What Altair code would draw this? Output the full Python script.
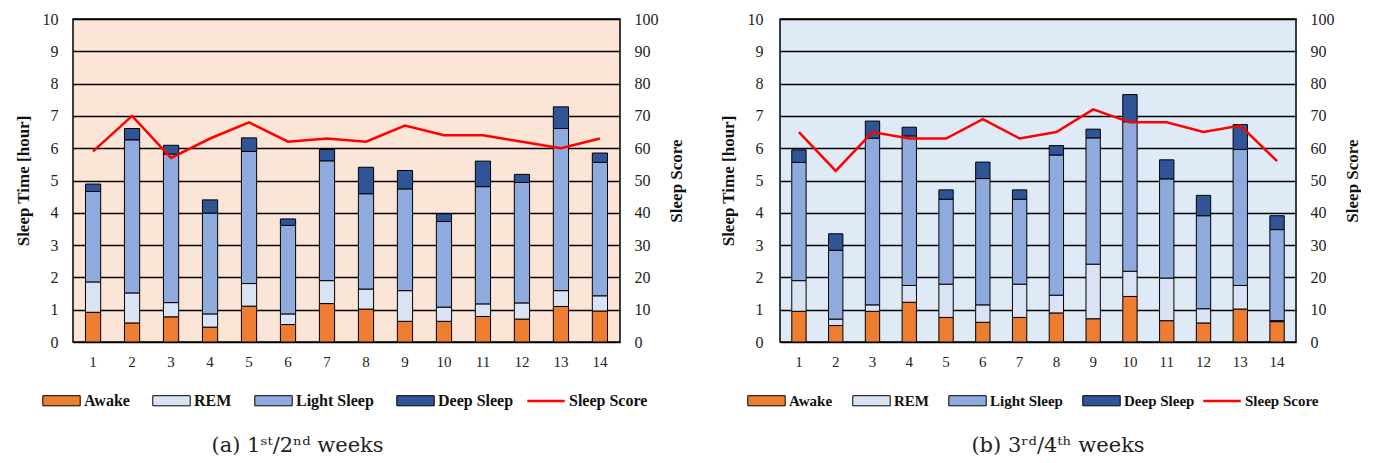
import altair as alt
import pandas as pd

days = list(range(1, 15))
stages = ["Awake", "REM", "Light Sleep", "Deep Sleep"]
stage_colors = ["#ED7D31", "#DAE3F3", "#8FAADC", "#2F5597"]
score_name = "Sleep Score"
line_color = "#FF0000"

# 1st/2nd weeks (hours per stage)
w12_awake = [0.92, 0.59, 0.78, 0.46, 1.11, 0.54, 1.19, 1.02, 0.64, 0.64, 0.79, 0.71, 1.10, 0.96]
w12_rem = [0.94, 0.93, 0.44, 0.41, 0.70, 0.33, 0.71, 0.62, 0.95, 0.44, 0.39, 0.50, 0.49, 0.47]
w12_light = [2.80, 4.74, 4.60, 3.12, 4.09, 2.74, 3.71, 2.95, 3.15, 2.65, 3.63, 3.73, 5.02, 4.13]
w12_deep = [0.23, 0.35, 0.27, 0.41, 0.42, 0.20, 0.35, 0.82, 0.57, 0.24, 0.79, 0.25, 0.67, 0.29]
w12_score = [59, 70, 57, 63, 68, 62, 63, 62, 67, 64, 64, 62, 60, 63]

# 3rd/4th weeks
w34_awake = [0.95, 0.51, 0.95, 1.23, 0.76, 0.61, 0.76, 0.90, 0.72, 1.41, 0.66, 0.59, 1.02, 0.63]
w34_rem = [0.95, 0.20, 0.20, 0.52, 1.03, 0.54, 1.03, 0.55, 1.69, 0.78, 1.32, 0.44, 0.73, 0.03]
w34_light = [3.66, 2.13, 5.16, 4.63, 2.63, 3.91, 2.63, 4.34, 3.91, 4.63, 3.07, 2.88, 4.21, 2.82]
w34_deep = [0.39, 0.51, 0.53, 0.27, 0.29, 0.51, 0.29, 0.29, 0.27, 0.84, 0.59, 0.63, 0.77, 0.43]
w34_score = [65, 53, 65, 63, 63, 69, 63, 65, 72, 68, 68, 65, 67, 56]

captions = ["(a) 1\u02e2\u1d57/2\u207f\u1d48 weeks", "(b) 3\u02b3\u1d48/4\u1d57\u02b0 weeks"]
backgrounds = ["#FBE5D6", "#DEEBF7"]

SERIF = "Liberation Serif"


def bars_df(awake, rem, light, deep):
    rows = []
    for i, d in enumerate(days):
        for k, (s, v) in enumerate(zip(stages, [awake[i], rem[i], light[i], deep[i]])):
            rows.append({"day": d, "stage": s, "hours": v, "ord": k})
    return pd.DataFrame(rows)


def legend_common(lx, ly, font_size, col_pad, **kw):
    return alt.Legend(
        orient="none",
        legendX=lx,
        legendY=ly,
        direction="horizontal",
        title=None,
        symbolSize=1400,
        symbolOpacity=1,
        labelFont=SERIF,
        labelFontSize=font_size,
        labelFontWeight="bold",
        labelColor="#111",
        labelOffset=3,
        columnPadding=col_pad,
        **kw,
    )


def panel(bdf, scores, caption, bg, width, title_dx, left_pad, leg_x, line_leg_x, leg_font, col_pad):
    ldf = pd.DataFrame({"day": days, "score": scores})
    x = alt.X(
        "day:O",
        sort=days,
        scale=alt.Scale(paddingInner=0.61, paddingOuter=0.32),
        axis=alt.Axis(
            title=None, labelAngle=0, ticks=False, domain=False, grid=False,
            labelFont=SERIF, labelFontSize=15, labelColor="#222", labelPadding=12,
        ),
    )
    bars = alt.Chart(bdf).mark_bar(stroke="black", strokeWidth=1).encode(
        x=x,
        y=alt.Y(
            "hours:Q",
            stack="zero",
            scale=alt.Scale(domain=[0, 10], nice=False),
            axis=alt.Axis(
                title="Sleep Time [hour]", values=list(range(0, 11)), grid=True,
                gridColor="black", gridWidth=1.5, gridOpacity=1, ticks=False, domain=False,
                labelFont=SERIF, labelFontSize=16, labelColor="#222", labelPadding=left_pad,
                titleFont=SERIF, titleFontSize=17, titleFontWeight="bold", titleColor="#111",
                titlePadding=10,
            ),
        ),
        color=alt.Color(
            "stage:N",
            sort=stages,
            scale=alt.Scale(domain=stages, range=stage_colors),
            legend=legend_common(
                leg_x, 362, leg_font, col_pad,
                columns=4,
                symbolType="M-1,-0.27H1V0.27H-1Z",
                symbolStrokeColor="black",
                symbolStrokeWidth=1,
            ),
        ),
        order=alt.Order("ord:Q"),
    )
    line = alt.Chart(ldf).mark_line(strokeWidth=2.5).encode(
        x=x,
        y=alt.Y(
            "score:Q",
            scale=alt.Scale(domain=[0, 100], nice=False),
            axis=alt.Axis(
                orient="right", title="Sleep Score", values=list(range(0, 101, 10)), grid=False,
                ticks=False, domain=False,
                labelFont=SERIF, labelFontSize=16, labelColor="#222", labelPadding=14,
                titleFont=SERIF, titleFontSize=17, titleFontWeight="bold", titleColor="#111",
                titleAngle=270, titleBaseline="top", titlePadding=10,
            ),
        ),
        stroke=alt.Stroke(
            "series:N",
            scale=alt.Scale(domain=[score_name], range=[line_color]),
            legend=legend_common(line_leg_x, 362, leg_font, col_pad,
                                 symbolType="stroke", symbolStrokeWidth=2.5),
        ),
    ).transform_calculate(series=f"'{score_name}'")
    return alt.layer(bars, line).resolve_scale(y="independent").properties(
        width=width,
        height=323,
        view=alt.ViewBackground(fill=bg, stroke="black", strokeWidth=1.5),
        title=alt.TitleParams(
            caption, orient="bottom", anchor="middle", frame="group", dx=title_dx,
            font="DejaVu Serif", fontSize=21, fontWeight="normal", color="#222", offset=26,
        ),
    )


left = panel(bars_df(w12_awake, w12_rem, w12_light, w12_deep), w12_score, captions[0],
             backgrounds[0], 547, -49, 15, -31, 453, 16, 20)
right = panel(bars_df(w34_awake, w34_rem, w34_light, w34_deep), w34_score, captions[1],
              backgrounds[1], 516, 20, 17, -33, 422, 15, 17)

chart = alt.hconcat(left, right, spacing=33).resolve_scale(
    color="independent", stroke="independent"
).configure(padding={"top": 2, "left": 5, "right": 0, "bottom": 0})

chart.save("out.html", embed_options={"renderer": "svg", "actions": False})
